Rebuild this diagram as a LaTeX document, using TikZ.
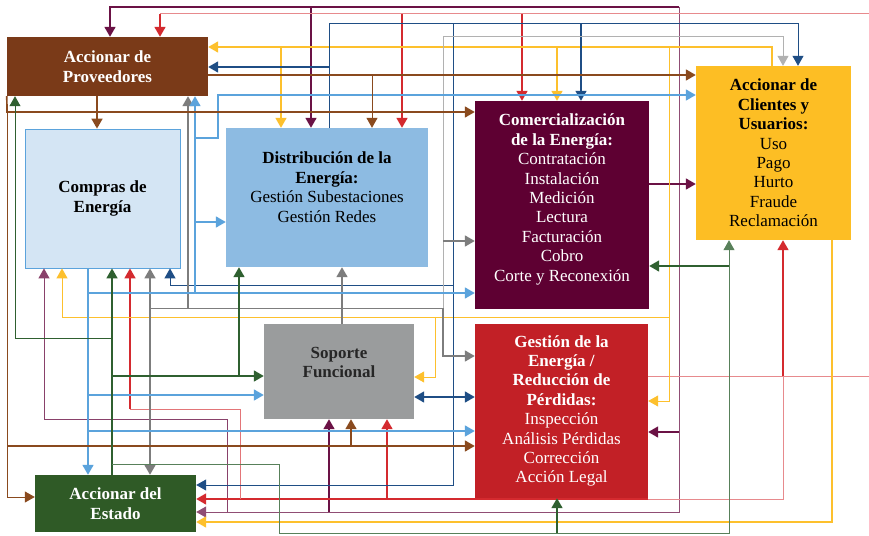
\documentclass[tikz,border=0pt]{standalone}
\usepackage{fontspec}
\setmainfont{Liberation Serif}
\usetikzlibrary{arrows.meta,positioning}

\definecolor{cProv}{RGB}{122,58,24}
\definecolor{cComp}{RGB}{212,229,244}
\definecolor{cDist}{RGB}{141,187,226}
\definecolor{cCom}{RGB}{94,0,50}
\definecolor{cCli}{RGB}{253,190,36}
\definecolor{cSop}{RGB}{154,156,157}
\definecolor{cGes}{RGB}{194,32,38}
\definecolor{cEst}{RGB}{47,90,38}
% line colours
\definecolor{lMar}{RGB}{107,18,69}
\definecolor{lRed}{RGB}{212,42,47}
\definecolor{lAmb}{RGB}{253,192,45}
\definecolor{lNav}{RGB}{31,78,133}
\definecolor{lBlu}{RGB}{91,163,220}
\definecolor{lBro}{RGB}{138,74,30}
\definecolor{lGre}{RGB}{47,96,48}
\definecolor{lGra}{RGB}{125,125,125}

\tikzset{
  cell/.style={rectangle,inner sep=0pt,align=center,font=\fontsize{17}{19.4}\selectfont},
  ln/.style={line width=1.7pt},
  thinln/.style={line width=1pt},
  tip/.style={-{Triangle[width=11pt,length=10pt]}},
  tips/.style={{Triangle[width=11pt,length=10pt]}-{Triangle[width=11pt,length=10pt]}},
}

\begin{document}
\begin{tikzpicture}[x=1pt,y=-1pt]
  \useasboundingbox[fill=white] (0,0) rectangle (869,535);

  % boxes
  \node[cell,fill=cProv,text=white,minimum width=201,minimum height=59] (prov) at (107.5,66.5)
    {\textbf{Accionar de}\\\textbf{Proveedores}};
  \node[cell,fill=cComp,draw=lBlu,line width=0.8pt,minimum width=155,minimum height=139] (comp) at (102.5,198.5)
    {\textbf{Compras de}\\\textbf{Energía}};
  \node[cell,fill=cDist,minimum width=202,minimum height=139] (dist) at (327,197.5) {};
  \node[cell,below=24pt of dist.north]
    {\textbf{Distribución de la}\\\textbf{Energía:}\\Gestión Subestaciones\\Gestión Redes};
  \node[cell,fill=cCom,minimum width=174,minimum height=208] (com) at (562,205) {};
  \node[cell,text=white,below=13pt of com.north]
    {\textbf{Comercialización}\\\textbf{de la Energía:}\\Contratación\\Instalación\\Medición\\Lectura\\Facturación\\Cobro\\Corte y Reconexión};
  \node[cell,fill=cCli,minimum width=155,minimum height=174] (cli) at (773.5,153)
    {\textbf{Accionar de}\\\textbf{Clientes y}\\\textbf{Usuarios:}\\Uso\\Pago\\Hurto\\Fraude\\Reclamación};
  \node[cell,fill=cSop,minimum width=150,minimum height=95] (sop) at (339,371.5) {};
  \node[cell,text=black!85,below=23pt of sop.north] {\textbf{Soporte}\\\textbf{Funcional}};
  \node[cell,fill=cGes,text=white,minimum width=173,minimum height=174] (ges) at (561.5,411)
    {\textbf{Gestión de la}\\\textbf{Energía /}\\\textbf{Reducción de}\\\textbf{Pérdidas:}\\Inspección\\Análisis Pérdidas\\Corrección\\Acción Legal};
  \node[cell,fill=cEst,text=white,minimum width=161,minimum height=57] (est) at (115.5,503.5)
    {\textbf{Accionar del}\\\textbf{Estado}};

  % maroon
  \draw[ln,lMar,tip] (679,7) -- (110,7) -- (110,0 |- prov.north);
  \draw[ln,lMar,tip] (311,7) -- (311,0 |- dist.north);
  \draw[thinln,lMar!75,tip] (679,7) -- (679,512) -- (est.east |- 0,512);
  \draw[ln,lMar,tip] (679,432) -- (ges.east |- 0,432);
  \draw[ln,lMar,tip] (329,512) -- (329,0 |- sop.south);
  \draw[thinln,lMar!80,tip] (227,512) -- (227,419) -- (44,419) -- (44,0 |- comp.south);
  \draw[ln,lMar,tip] (com.east |- 0,184) -- (cli.west |- 0,184);

  % red
  \draw[thinln,lRed!55] (ges.east |- 0,376) -- (869,376);
  \draw[thinln,lRed!55] (869,14) -- (160,14);
  \draw[ln,lRed,tip] (160,14) -- (160,0 |- prov.north);
  \draw[ln,lRed,tip] (402,14) -- (402,0 |- dist.north);
  \draw[ln,lRed,tip] (522,14) -- (522,0 |- com.north);
  \draw[ln,lRed,tip] (783,376) -- (783,0 |- cli.south);
  \draw[thinln,lRed!55] (783,376) -- (783,499) -- (648,499);
  \draw[ln,lRed,tip] (648,499) -- (est.east |- 0,499);
  \draw[ln,lRed,tip] (387,499) -- (387,0 |- sop.south);
  \draw[thinln,lRed!65] (240,499) -- (240,409) -- (130,409);
  \draw[ln,lRed,tip] (130,409) -- (130,0 |- comp.south);

  % amber
  \draw[ln,lAmb,tip] (772,0 |- cli.north) -- (772,47) -- (prov.east |- 0,47);
  \draw[ln,lAmb,tip] (281,47) -- (281,0 |- dist.north);
  \draw[ln,lAmb,tip] (557,47) -- (557,0 |- com.north);
  \draw[thinln,lAmb,tip] (669,47) -- (669,401) -- (ges.east |- 0,401);
  \draw[thinln,lAmb,tip] (669,317) -- (62,317) -- (62,0 |- comp.south);
  \draw[thinln,lAmb,tip] (435,317) -- (435,377) -- (sop.east |- 0,377);
  \draw[ln,lAmb,tip] (832,0 |- cli.south) -- (832,522) -- (est.east |- 0,522);

  % navy
  \draw[thinln,lNav,tip] (329,0 |- dist.north) -- (329,24) -- (798,24) -- (798,0 |- cli.north);
  \draw[ln,lNav,tip] (329,67) -- (prov.east |- 0,67);
  \draw[ln,lNav,tip] (581,24) -- (581,0 |- com.north);
  \draw[thinln,lNav,tip] (453,24) -- (453,485) -- (est.east |- 0,485);
  \draw[thinln,lNav,tip] (453,285) -- (170,285) -- (170,0 |- comp.south);
  \draw[ln,lNav,tips] (sop.east |- 0,397) -- (ges.west |- 0,397);

  % gray
  \draw[ln,lGra,tip] (342,0 |- sop.north) -- (342,0 |- dist.south);
  \draw[ln,lGra,tip] (150,308) -- (150,0 |- comp.south);
  \draw[ln,lGra,tip] (150,308) -- (150,0 |- est.north);
  \draw[thinln,lGra] (150,308) -- (443,308);
  \draw[ln,lGra,tip] (188,308) -- (188,0 |- prov.south);
  \draw[thinln,lGra!60,tip] (443,308) -- (443,37) -- (783,37) -- (783,0 |- cli.north);
  \draw[ln,lGra,tip] (443,241) -- (com.west |- 0,241);
  \draw[ln,lGra,tip] (443,308) -- (443,356) -- (ges.west |- 0,356);

  % light blue
  \draw[ln,lBlu,tip] (88,0 |- comp.south) -- (88,0 |- est.north);
  \draw[ln,lBlu,tip] (88,293) -- (com.west |- 0,293);
  \draw[ln,lBlu,tip] (195,293) -- (195,0 |- prov.south);
  \draw[ln,lBlu,tip] (195,222) -- (dist.west |- 0,222);
  \draw[ln,lBlu,tip] (195,138) -- (218,138) -- (218,95) -- (cli.west |- 0,95);
  \draw[ln,lBlu,tip] (88,395) -- (sop.west |- 0,395);
  \draw[ln,lBlu,tip] (88,431) -- (ges.west |- 0,431);

  % brown
  \draw[ln,lBro,tip] (97,0 |- prov.south) -- (97,0 |- comp.north);
  \draw[ln,lBro,tip] (prov.east |- 0,75) -- (cli.west |- 0,75);
  \draw[thinln,lBro,tip] (372,75) -- (372,0 |- dist.north);
  \draw[ln,lBro,tip] (prov.south west) -- (7,112) -- (com.west |- 0,112);
  \draw[thinln,lBro,tip] (7,112) -- (7,497) -- (est.west |- 0,497);
  \draw[ln,lBro,tip] (7,446) -- (ges.west |- 0,446);
  \draw[ln,lBro,tip] (351,446) -- (351,0 |- sop.south);

  % green
  \draw[ln,lGre,tip] (112,0 |- est.north) -- (112,0 |- comp.south);
  \draw[thinln,lGre,tip] (112,338) -- (15,338) -- (15,0 |- prov.south);
  \draw[ln,lGre,tip] (112,376) -- (sop.west |- 0,376);
  \draw[ln,lGre,tip] (239,376) -- (239,0 |- dist.south);
  \draw[thinln,lGre!80,tip] (112,464) -- (279,464) -- (279,533) -- (729,533) -- (729,0 |- cli.south);
  \draw[ln,lGre,tip] (557,533) -- (557,0 |- ges.south);
  \draw[ln,lGre,tip] (729,266) -- (com.east |- 0,266);
\end{tikzpicture}
\end{document}
